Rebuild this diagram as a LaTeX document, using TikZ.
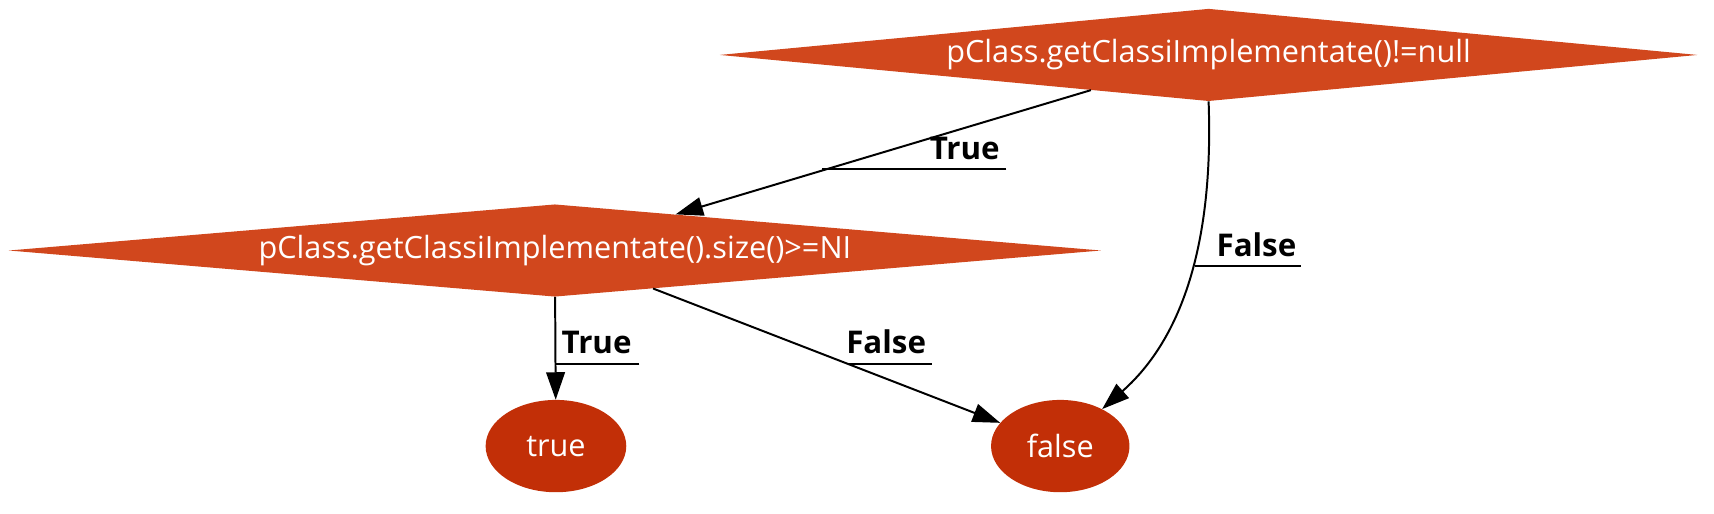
\documentclass[tikz,border=0pt]{standalone}
\usepackage{fontspec}
\setmainfont{Open Sans}
\usetikzlibrary{shapes.geometric,arrows.meta,calc}
\definecolor{dfill}{HTML}{D1471D}
\definecolor{efill}{HTML}{C22F07}
\begin{document}
\begin{tikzpicture}[x=1pt,y=-1pt,
  dec/.style={shape=diamond,fill=dfill,draw=none,inner sep=0pt,aspect=10.6,text=white,font=\fontsize{27.9}{30}\selectfont},
  term/.style={shape=ellipse,fill=efill,draw=none,inner sep=0pt,text=white,font=\fontsize{27.9}{30}\selectfont,minimum height=84pt},
  edge/.style={line width=1.8pt,-{Triangle[length=25pt,width=17pt]}},
  lbl/.style={font=\bfseries\fontsize{28.5}{30}\selectfont,inner sep=0pt,anchor=base east},
  uline/.style={line width=1.8pt}]
\useasboundingbox (0,0) rectangle (1560,467.8);
\node[dec,minimum width=890pt,minimum height=84pt] (top) at (1100,50) {pClass.getClassiImplementate()!=null};
\node[dec,minimum width=994pt,minimum height=84pt] (mid) at (505,228) {pClass.getClassiImplementate().size()>=NI};
\node[term,minimum width=128pt] (tr) at (506,406) {true};
\node[term,minimum width=126pt] (fa) at (965,406) {false};
\draw[edge] (top) -- (mid);
\draw[edge] (top.south) .. controls (1104,200) and (1085,300) .. (fa);
\draw[edge] (mid) -- (tr);
\draw[edge] (mid) -- (fa);
\node[lbl] (l1) at (910,145) {True};
\draw[uline] ($(l1.base east)+(6,9)$) -- ++(-168,0);
\node[lbl] (l2) at (1180,233) {False};
\draw[uline] ($(l2.base east)+(4,9)$) -- ++(-96,0);
\node[lbl] (l3) at (575,322) {True};
\draw[uline] ($(l3.base east)+(7,9)$) -- ++(-76,0);
\node[lbl] (l4) at (843,322) {False};
\draw[uline] ($(l4.base east)+(5,9)$) -- ++(-76,0);
\end{tikzpicture}
\end{document}
